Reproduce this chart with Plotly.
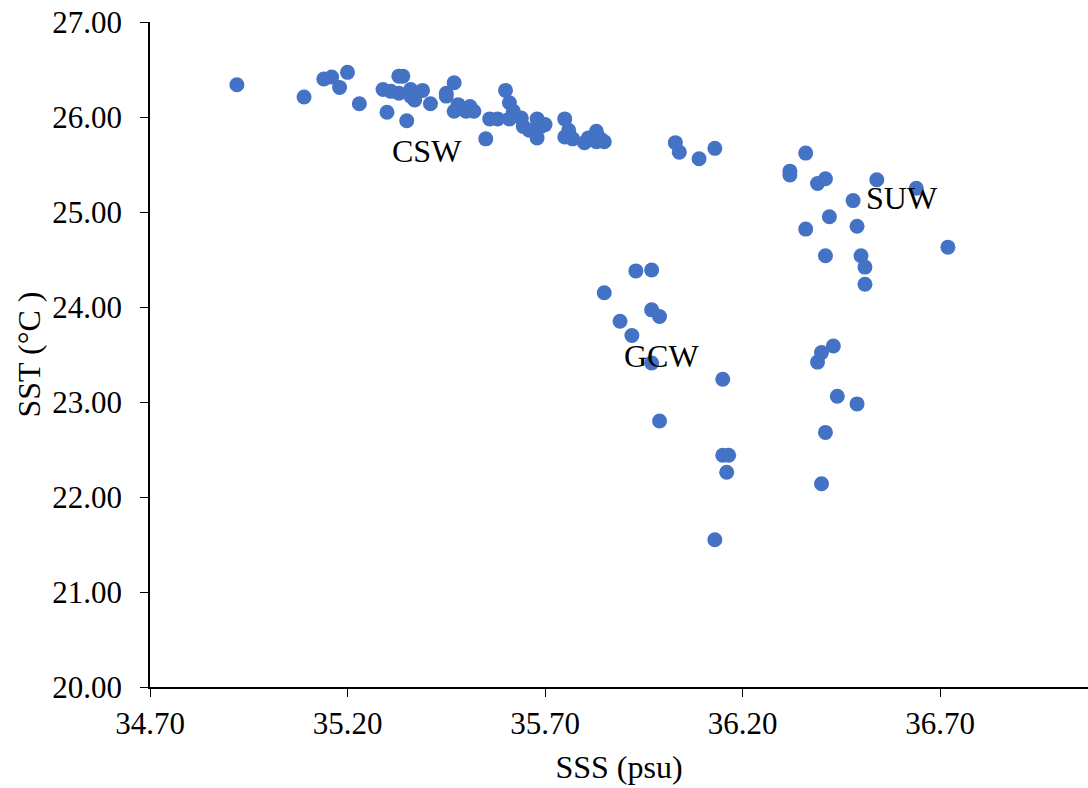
import plotly.graph_objects as go

sss = [34.92, 35.09, 35.14, 35.16, 35.20, 35.18, 35.23, 35.29, 35.30, 35.33,
       35.34, 35.33, 35.31, 35.36, 35.37, 35.35, 35.39, 35.41, 35.36, 35.45,
       35.45, 35.47, 35.47, 35.48, 35.51, 35.52, 35.50, 35.55, 35.56, 35.58,
       35.60, 35.61, 35.61, 35.62, 35.64, 35.645, 35.66, 35.68, 35.68, 35.70,
       35.69, 35.75, 35.76, 35.75, 35.77, 35.80, 35.83, 35.83, 35.85, 35.81,
       35.84, 36.03, 36.04, 36.09, 36.13,
       36.36, 36.32, 36.32, 36.39, 36.41, 36.54, 36.64, 36.48, 36.42, 36.36,
       36.49, 36.72, 36.41, 36.50, 36.51, 36.51,
       35.93, 35.97, 35.85, 35.97, 35.99, 35.89, 35.92, 35.97, 35.99, 36.15,
       36.15, 36.165, 36.16, 36.13, 36.43, 36.40, 36.39, 36.44, 36.49, 36.41,
       36.40]
sst = [26.34, 26.21, 26.40, 26.42, 26.47, 26.31, 26.14, 26.29, 26.05, 26.43,
       26.43, 26.25, 26.27, 26.29, 26.18, 25.96, 26.28, 26.14, 26.22, 26.25,
       26.22, 26.36, 26.06, 26.13, 26.11, 26.06, 26.06, 25.77, 25.98, 25.98,
       26.28, 26.15, 25.98, 26.06, 25.99, 25.90, 25.86, 25.98, 25.78, 25.92,
       25.90, 25.98, 25.86, 25.79, 25.77, 25.73, 25.85, 25.74, 25.74, 25.78,
       25.77, 25.73, 25.63, 25.56, 25.67,
       25.62, 25.43, 25.39, 25.30, 25.35, 25.34, 25.25, 25.12, 24.95, 24.82,
       24.85, 24.63, 24.54, 24.54, 24.42, 24.24,
       24.38, 24.39, 24.15, 23.97, 23.90, 23.85, 23.70, 23.41, 22.80, 23.24,
       22.44, 22.44, 22.26, 21.55, 23.59, 23.52, 23.42, 23.06, 22.98, 22.68,
       22.14]

label_text = ["CSW", "SUW", "GCW"]
label_x = [35.40, 36.605, 35.995]
label_y = [25.64, 25.15, 23.48]

FONT = "Liberation Serif"

fig = go.Figure()
fig.add_trace(go.Scatter(
    x=sss, y=sst, mode="markers",
    marker=dict(size=15, color="#4472C4", line=dict(width=0)),
    showlegend=False, hoverinfo="x+y",
))

for t, lx, ly in zip(label_text, label_x, label_y):
    fig.add_annotation(x=lx, y=ly, text=t, showarrow=False,
                       font=dict(family=FONT, size=32, color="black"))

fig.update_layout(
    width=1088, height=788,
    margin=dict(l=150, r=0, t=22, b=101),
    paper_bgcolor="white", plot_bgcolor="white",
    font=dict(family=FONT, size=31, color="black"),
)
fig.update_xaxes(
    range=[34.70, 34.70 + 938 / 395], tick0=34.70, dtick=0.5, tickformat=".2f",
    showgrid=False, zeroline=False, showline=True, linecolor="black", linewidth=1.5,
    ticks="outside", ticklen=8, tickcolor="black", tickwidth=1,
    ticklabeloverflow="allow",
    title=dict(text="SSS (psu)", standoff=16, font=dict(family=FONT, size=32)),
)
fig.update_yaxes(
    range=[20, 27], dtick=1, tickformat=".2f",
    showgrid=False, zeroline=False, showline=True, linecolor="black", linewidth=1.5,
    ticks="outside", ticklen=8, tickcolor="black", tickwidth=1,
    ticklabeloverflow="allow", ticklabelstandoff=12,
    title=dict(text="SST (°C )", standoff=2, font=dict(family=FONT, size=32)),
)

fig.write_html("out.html", config={"displayModeBar": False},
               post_script="document.body.style.margin='0';document.body.style.overflow='hidden';")
